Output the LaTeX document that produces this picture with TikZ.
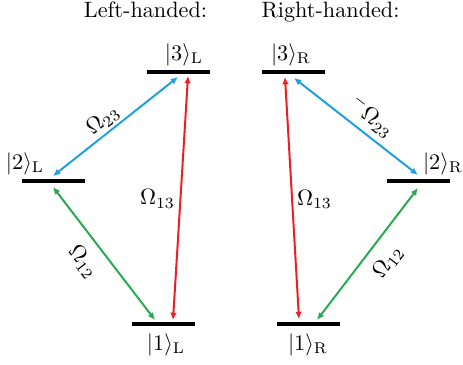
\documentclass[tikz,border=0pt]{standalone}
\usetikzlibrary{arrows.meta}
\definecolor{cblue}{RGB}{30,160,225}
\definecolor{cred}{RGB}{237,30,36}
\definecolor{cgreen}{RGB}{40,170,80}
\begin{document}
\begin{tikzpicture}[x={(0.45pt,0)}, y={(0,-0.45pt)},
  lvl/.style={line width=1.8pt},
  tr/.style={line width=0.9pt, {Latex[length=3.3pt,width=3pt]}-{Latex[length=3.3pt,width=3pt]}},
  lab/.style={fill=white, inner sep=1pt},
  ket/.style={inner sep=0pt},
  ttl/.style={anchor=base, inner sep=0pt}]
\useasboundingbox (0,0) rectangle (463,364);
% titles
\node[ttl] (tL) at (145.5,17) {Left-handed:};
\node[ttl] (tR) at (330.5,17) {Right-handed:};
% levels
\draw[lvl] (147,72) -- (210,72);
\draw[lvl] (22,181) -- (85,181);
\draw[lvl] (132,324) -- (195,324);
\draw[lvl] (262,72) -- (325,72);
\draw[lvl] (387,181) -- (450,181);
\draw[lvl] (277,324) -- (340,324);
% kets
\node[ket] (k3L) at (184,55) {$|3\rangle_{\mathrm{L}}$};
\node[ket] (k2L) at (25,164) {$|2\rangle_{\mathrm{L}}$};
\node[ket] (k1L) at (166,345) {$|1\rangle_{\mathrm{L}}$};
\node[ket] (k3R) at (291,55) {$|3\rangle_{\mathrm{R}}$};
\node[ket] (k2R) at (443,164) {$|2\rangle_{\mathrm{R}}$};
\node[ket] (k1R) at (308,345) {$|1\rangle_{\mathrm{R}}$};
% arrow ends
\coordinate (bL2) at (53,176);
\coordinate (bL3) at (178,77);
\coordinate (rL3) at (188,76);
\coordinate (rL1) at (173,320);
\coordinate (gL2) at (53,187);
\coordinate (gL1) at (155,320);
\coordinate (rR3) at (285,77);
\coordinate (rR1) at (299,319);
\coordinate (bR3) at (294,78);
\coordinate (bR2) at (418,175);
\coordinate (gR2) at (418,188);
\coordinate (gR1) at (317,320);
% transitions
\draw[tr, cblue] (bL2) -- (bL3);
\draw[tr, cred] (rL3) -- (rL1);
\draw[tr, cgreen] (gL2) -- (gL1);
\draw[tr, cred] (rR3) -- (rR1);
\draw[tr, cblue] (bR3) -- (bR2);
\draw[tr, cgreen] (gR2) -- (gR1);
% labels
\node[lab, rotate=38] (o23L) at (103,120) {$\Omega_{23}$};
\node[lab] (o13L) at (157.5,199) {$\Omega_{13}$};
\node[lab, rotate=-52.5] (o12L) at (83,262) {$\Omega_{12}$};
\node[lab, rotate=-38] (o23R) at (372,117) {${}^{-}\Omega_{23}$};
\node[lab] (o13R) at (314.5,199.5) {$\Omega_{13}$};
\node[lab, rotate=52.5] (o12R) at (388,262) {$\Omega_{12}$};
\end{tikzpicture}
\end{document}
